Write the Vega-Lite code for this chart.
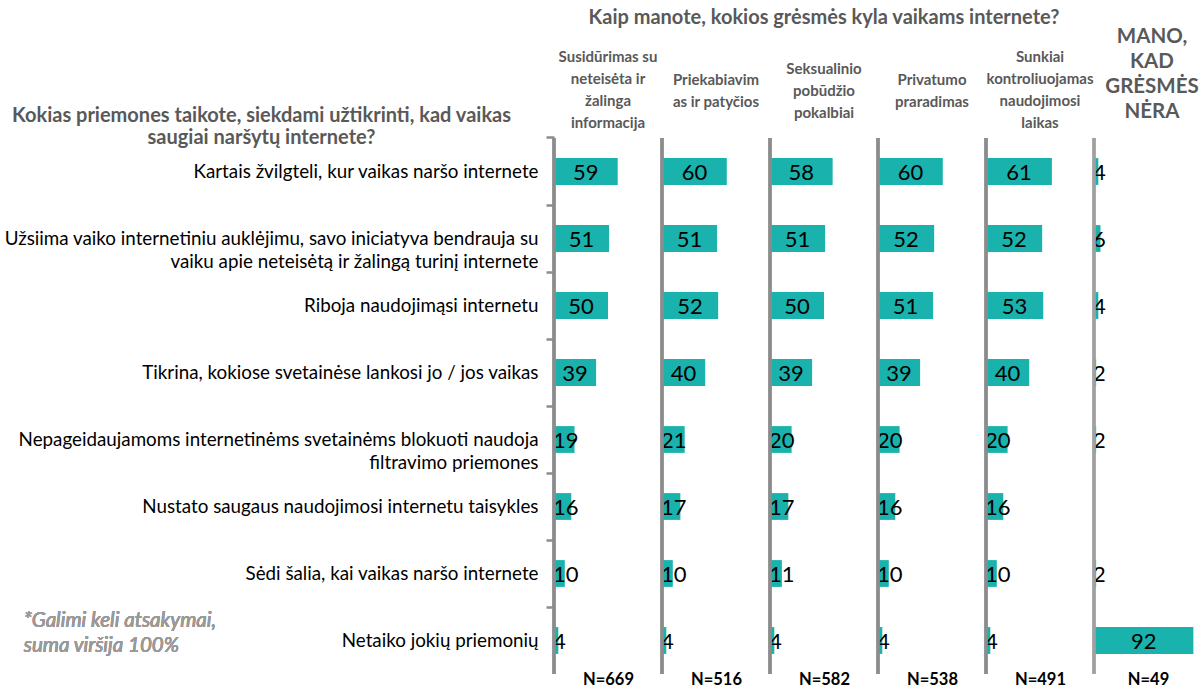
{
  "$schema": "https://vega.github.io/schema/vega-lite/v6.json",
  "padding": {"left": 3, "top": 7, "right": 0, "bottom": 0},
  "config": {"view": {"stroke": null}, "font": "Lato", "title": {"font": "Lato"}},
  "datasets": {
    "d": [
      {"threat": "Susidūrimas su neteisėta ir žalinga informacija", "measure": "Kartais žvilgteli, kur vaikas naršo internete", "pct": 59},
      {"threat": "Susidūrimas su neteisėta ir žalinga informacija", "measure": "Užsiima vaiko internetiniu auklėjimu, savo iniciatyva bendrauja su|vaiku apie neteisėtą ir žalingą turinį internete", "pct": 51},
      {"threat": "Susidūrimas su neteisėta ir žalinga informacija", "measure": "Riboja naudojimąsi internetu", "pct": 50},
      {"threat": "Susidūrimas su neteisėta ir žalinga informacija", "measure": "Tikrina, kokiose svetainėse lankosi jo / jos vaikas", "pct": 39},
      {"threat": "Susidūrimas su neteisėta ir žalinga informacija", "measure": "Nepageidaujamoms internetinėms svetainėms blokuoti naudoja|filtravimo priemones", "pct": 19},
      {"threat": "Susidūrimas su neteisėta ir žalinga informacija", "measure": "Nustato saugaus naudojimosi internetu taisykles", "pct": 16},
      {"threat": "Susidūrimas su neteisėta ir žalinga informacija", "measure": "Sėdi šalia, kai vaikas naršo internete", "pct": 10},
      {"threat": "Susidūrimas su neteisėta ir žalinga informacija", "measure": "Netaiko jokių priemonių", "pct": 4},
      {"threat": "Priekabiavimas ir patyčios", "measure": "Kartais žvilgteli, kur vaikas naršo internete", "pct": 60},
      {"threat": "Priekabiavimas ir patyčios", "measure": "Užsiima vaiko internetiniu auklėjimu, savo iniciatyva bendrauja su|vaiku apie neteisėtą ir žalingą turinį internete", "pct": 51},
      {"threat": "Priekabiavimas ir patyčios", "measure": "Riboja naudojimąsi internetu", "pct": 52},
      {"threat": "Priekabiavimas ir patyčios", "measure": "Tikrina, kokiose svetainėse lankosi jo / jos vaikas", "pct": 40},
      {"threat": "Priekabiavimas ir patyčios", "measure": "Nepageidaujamoms internetinėms svetainėms blokuoti naudoja|filtravimo priemones", "pct": 21},
      {"threat": "Priekabiavimas ir patyčios", "measure": "Nustato saugaus naudojimosi internetu taisykles", "pct": 17},
      {"threat": "Priekabiavimas ir patyčios", "measure": "Sėdi šalia, kai vaikas naršo internete", "pct": 10},
      {"threat": "Priekabiavimas ir patyčios", "measure": "Netaiko jokių priemonių", "pct": 4},
      {"threat": "Seksualinio pobūdžio pokalbiai", "measure": "Kartais žvilgteli, kur vaikas naršo internete", "pct": 58},
      {"threat": "Seksualinio pobūdžio pokalbiai", "measure": "Užsiima vaiko internetiniu auklėjimu, savo iniciatyva bendrauja su|vaiku apie neteisėtą ir žalingą turinį internete", "pct": 51},
      {"threat": "Seksualinio pobūdžio pokalbiai", "measure": "Riboja naudojimąsi internetu", "pct": 50},
      {"threat": "Seksualinio pobūdžio pokalbiai", "measure": "Tikrina, kokiose svetainėse lankosi jo / jos vaikas", "pct": 39},
      {"threat": "Seksualinio pobūdžio pokalbiai", "measure": "Nepageidaujamoms internetinėms svetainėms blokuoti naudoja|filtravimo priemones", "pct": 20},
      {"threat": "Seksualinio pobūdžio pokalbiai", "measure": "Nustato saugaus naudojimosi internetu taisykles", "pct": 17},
      {"threat": "Seksualinio pobūdžio pokalbiai", "measure": "Sėdi šalia, kai vaikas naršo internete", "pct": 11},
      {"threat": "Seksualinio pobūdžio pokalbiai", "measure": "Netaiko jokių priemonių", "pct": 4},
      {"threat": "Privatumo praradimas", "measure": "Kartais žvilgteli, kur vaikas naršo internete", "pct": 60},
      {"threat": "Privatumo praradimas", "measure": "Užsiima vaiko internetiniu auklėjimu, savo iniciatyva bendrauja su|vaiku apie neteisėtą ir žalingą turinį internete", "pct": 52},
      {"threat": "Privatumo praradimas", "measure": "Riboja naudojimąsi internetu", "pct": 51},
      {"threat": "Privatumo praradimas", "measure": "Tikrina, kokiose svetainėse lankosi jo / jos vaikas", "pct": 39},
      {"threat": "Privatumo praradimas", "measure": "Nepageidaujamoms internetinėms svetainėms blokuoti naudoja|filtravimo priemones", "pct": 20},
      {"threat": "Privatumo praradimas", "measure": "Nustato saugaus naudojimosi internetu taisykles", "pct": 16},
      {"threat": "Privatumo praradimas", "measure": "Sėdi šalia, kai vaikas naršo internete", "pct": 10},
      {"threat": "Privatumo praradimas", "measure": "Netaiko jokių priemonių", "pct": 4},
      {"threat": "Sunkiai kontroliuojamas naudojimosi laikas", "measure": "Kartais žvilgteli, kur vaikas naršo internete", "pct": 61},
      {"threat": "Sunkiai kontroliuojamas naudojimosi laikas", "measure": "Užsiima vaiko internetiniu auklėjimu, savo iniciatyva bendrauja su|vaiku apie neteisėtą ir žalingą turinį internete", "pct": 52},
      {"threat": "Sunkiai kontroliuojamas naudojimosi laikas", "measure": "Riboja naudojimąsi internetu", "pct": 53},
      {"threat": "Sunkiai kontroliuojamas naudojimosi laikas", "measure": "Tikrina, kokiose svetainėse lankosi jo / jos vaikas", "pct": 40},
      {"threat": "Sunkiai kontroliuojamas naudojimosi laikas", "measure": "Nepageidaujamoms internetinėms svetainėms blokuoti naudoja|filtravimo priemones", "pct": 20},
      {"threat": "Sunkiai kontroliuojamas naudojimosi laikas", "measure": "Nustato saugaus naudojimosi internetu taisykles", "pct": 16},
      {"threat": "Sunkiai kontroliuojamas naudojimosi laikas", "measure": "Sėdi šalia, kai vaikas naršo internete", "pct": 10},
      {"threat": "Sunkiai kontroliuojamas naudojimosi laikas", "measure": "Netaiko jokių priemonių", "pct": 4},
      {"threat": "Mano, kad grėsmės nėra", "measure": "Kartais žvilgteli, kur vaikas naršo internete", "pct": 4},
      {"threat": "Mano, kad grėsmės nėra", "measure": "Užsiima vaiko internetiniu auklėjimu, savo iniciatyva bendrauja su|vaiku apie neteisėtą ir žalingą turinį internete", "pct": 6},
      {"threat": "Mano, kad grėsmės nėra", "measure": "Riboja naudojimąsi internetu", "pct": 4},
      {"threat": "Mano, kad grėsmės nėra", "measure": "Tikrina, kokiose svetainėse lankosi jo / jos vaikas", "pct": 2},
      {"threat": "Mano, kad grėsmės nėra", "measure": "Nepageidaujamoms internetinėms svetainėms blokuoti naudoja|filtravimo priemones", "pct": 2},
      {"threat": "Mano, kad grėsmės nėra", "measure": "Sėdi šalia, kai vaikas naršo internete", "pct": 2},
      {"threat": "Mano, kad grėsmės nėra", "measure": "Netaiko jokių priemonių", "pct": 92}
    ]
  },
  "data": {"name": "d"},
  "bounds": "flush",
  "spacing": 0,
  "resolve": {"scale": {"x": "independent", "y": "independent"}, "axis": {"x": "independent", "y": "independent"}},
  "hconcat": [
    {
      "width": 108, "height": 536,
      "title": {"text": ["Susidūrimas su", "neteisėta ir", "žalinga", "informacija"], "fontSize": 15, "fontWeight": "bold", "color": "#595959", "lineHeight": 22, "offset": -26},
      "transform": [{"filter": "datum.threat == 'Susidūrimas su neteisėta ir žalinga informacija'"}],
      "layer": [
        {"mark": {"type": "bar", "color": "#1ab2ac"},
         "encoding": {
           "x": {"field": "pct", "type": "quantitative", "scale": {"domain": [0, 100]}, "axis": {"title": "N=669", "labels": false, "ticks": false, "domain": false, "grid": false, "titleFontSize": 16.5, "titleFontWeight": "bold", "titleColor": "#000", "titlePadding": -3}},
           "y": {"field": "measure", "type": "nominal", "sort": null,
                 "scale": {"domain": ["Kartais žvilgteli, kur vaikas naršo internete", "Užsiima vaiko internetiniu auklėjimu, savo iniciatyva bendrauja su|vaiku apie neteisėtą ir žalingą turinį internete", "Riboja naudojimąsi internetu", "Tikrina, kokiose svetainėse lankosi jo / jos vaikas", "Nepageidaujamoms internetinėms svetainėms blokuoti naudoja|filtravimo priemones", "Nustato saugaus naudojimosi internetu taisykles", "Sėdi šalia, kai vaikas naršo internete", "Netaiko jokių priemonių"], "paddingInner": 0.6, "paddingOuter": 0.3},
                 "axis": {"labelExpr": "split(datum.label, '|')", "labelFont": "Lato", "labelFontSize": 18.8, "labelColor": "#000", "labelLineHeight": 23, "labelPadding": 8, "labelLimit": 800, "tickSize": 8, "tickColor": "#8c8c8c", "tickWidth": 2.5, "bandPosition": -0.75, "domain": false,
                          "title": ["Kokias priemones taikote, siekdami užtikrinti, kad vaikas", "saugiai naršytų internete?"], "titleAngle": 0, "titleAlign": "center", "titleBaseline": "alphabetic", "titleX": -293, "titleY": -17, "titleFontSize": 20, "titleFontWeight": "bold", "titleColor": "#595959", "titleLineHeight": 22}}
         }},
        {"transform": [{"filter": "datum.pct >= 22"}, {"calculate": "datum.pct / 2", "as": "mid"}],
         "mark": {"type": "text", "fontSize": 22, "color": "#000", "baseline": "middle", "dy": 1},
         "encoding": {"x": {"field": "mid", "type": "quantitative"}, "y": {"field": "measure", "type": "nominal", "sort": null}, "text": {"field": "pct", "type": "quantitative"}}},
        {"transform": [{"filter": "datum.pct < 22"}],
         "mark": {"type": "text", "fontSize": 22, "color": "#000", "baseline": "middle", "align": "left", "dx": -1, "dy": 1},
         "encoding": {"x": {"datum": 0}, "y": {"field": "measure", "type": "nominal", "sort": null}, "text": {"field": "pct", "type": "quantitative"}}},
        {"mark": {"type": "text", "align": "left", "baseline": "middle", "fontSize": 20.5, "fontStyle": "italic", "fontWeight": "normal", "color": "#9a9a9a", "lineHeight": 25, "dy": -20, "text": ["*Galimi keli atsakymai,", "suma viršija 100%"]},
         "encoding": {"x": {"datum": -491}, "y": {"datum": "Netaiko jokių priemonių", "type": "nominal"}}},
        {"mark": {"type": "rule", "color": "#8c8c8c", "strokeWidth": 2.5}, "encoding": {"x": {"datum": 0}}}
      ]
    },
    {
      "width": 108, "height": 536,
      "title": {"text": ["Priekabiavim", "as ir patyčios"], "fontSize": 15, "fontWeight": "bold", "color": "#595959", "lineHeight": 22, "offset": 27},
      "transform": [{"filter": "datum.threat == 'Priekabiavimas ir patyčios'"}],
      "layer": [
        {"mark": {"type": "bar", "color": "#1ab2ac"},
         "encoding": {
           "x": {"field": "pct", "type": "quantitative", "scale": {"domain": [0, 100]}, "axis": {"title": "N=516", "labels": false, "ticks": false, "domain": false, "grid": false, "titleFontSize": 16.5, "titleFontWeight": "bold", "titleColor": "#000", "titlePadding": -3}},
           "y": {"field": "measure", "type": "nominal", "sort": null,
                 "scale": {"domain": ["Kartais žvilgteli, kur vaikas naršo internete", "Užsiima vaiko internetiniu auklėjimu, savo iniciatyva bendrauja su|vaiku apie neteisėtą ir žalingą turinį internete", "Riboja naudojimąsi internetu", "Tikrina, kokiose svetainėse lankosi jo / jos vaikas", "Nepageidaujamoms internetinėms svetainėms blokuoti naudoja|filtravimo priemones", "Nustato saugaus naudojimosi internetu taisykles", "Sėdi šalia, kai vaikas naršo internete", "Netaiko jokių priemonių"], "paddingInner": 0.6, "paddingOuter": 0.3},
                 "axis": null}
         }},
        {"transform": [{"filter": "datum.pct >= 22"}, {"calculate": "datum.pct / 2", "as": "mid"}],
         "mark": {"type": "text", "fontSize": 22, "color": "#000", "baseline": "middle", "dy": 1},
         "encoding": {"x": {"field": "mid", "type": "quantitative"}, "y": {"field": "measure", "type": "nominal", "sort": null}, "text": {"field": "pct", "type": "quantitative"}}},
        {"transform": [{"filter": "datum.pct < 22"}],
         "mark": {"type": "text", "fontSize": 22, "color": "#000", "baseline": "middle", "align": "left", "dx": -1, "dy": 1},
         "encoding": {"x": {"datum": 0}, "y": {"field": "measure", "type": "nominal", "sort": null}, "text": {"field": "pct", "type": "quantitative"}}},
        {"mark": {"type": "rule", "color": "#8c8c8c", "strokeWidth": 2.5}, "encoding": {"x": {"datum": 0}}}
      ]
    },
    {
      "width": 108, "height": 536,
      "title": {"text": "Kaip manote, kokios grėsmės kyla vaikams internete?", "fontSize": 20, "fontWeight": "bold", "color": "#595959", "subtitle": ["Seksualinio", "pobūdžio", "pokalbiai"], "subtitleFontSize": 15, "subtitleFontWeight": "bold", "subtitleColor": "#595959", "subtitleLineHeight": 22, "subtitlePadding": 34, "offset": 16},
      "transform": [{"filter": "datum.threat == 'Seksualinio pobūdžio pokalbiai'"}],
      "layer": [
        {"mark": {"type": "bar", "color": "#1ab2ac"},
         "encoding": {
           "x": {"field": "pct", "type": "quantitative", "scale": {"domain": [0, 100]}, "axis": {"title": "N=582", "labels": false, "ticks": false, "domain": false, "grid": false, "titleFontSize": 16.5, "titleFontWeight": "bold", "titleColor": "#000", "titlePadding": -3}},
           "y": {"field": "measure", "type": "nominal", "sort": null,
                 "scale": {"domain": ["Kartais žvilgteli, kur vaikas naršo internete", "Užsiima vaiko internetiniu auklėjimu, savo iniciatyva bendrauja su|vaiku apie neteisėtą ir žalingą turinį internete", "Riboja naudojimąsi internetu", "Tikrina, kokiose svetainėse lankosi jo / jos vaikas", "Nepageidaujamoms internetinėms svetainėms blokuoti naudoja|filtravimo priemones", "Nustato saugaus naudojimosi internetu taisykles", "Sėdi šalia, kai vaikas naršo internete", "Netaiko jokių priemonių"], "paddingInner": 0.6, "paddingOuter": 0.3},
                 "axis": null}
         }},
        {"transform": [{"filter": "datum.pct >= 22"}, {"calculate": "datum.pct / 2", "as": "mid"}],
         "mark": {"type": "text", "fontSize": 22, "color": "#000", "baseline": "middle", "dy": 1},
         "encoding": {"x": {"field": "mid", "type": "quantitative"}, "y": {"field": "measure", "type": "nominal", "sort": null}, "text": {"field": "pct", "type": "quantitative"}}},
        {"transform": [{"filter": "datum.pct < 22"}],
         "mark": {"type": "text", "fontSize": 22, "color": "#000", "baseline": "middle", "align": "left", "dx": -1, "dy": 1},
         "encoding": {"x": {"datum": 0}, "y": {"field": "measure", "type": "nominal", "sort": null}, "text": {"field": "pct", "type": "quantitative"}}},
        {"mark": {"type": "rule", "color": "#8c8c8c", "strokeWidth": 2.5}, "encoding": {"x": {"datum": 0}}}
      ]
    },
    {
      "width": 108, "height": 536,
      "title": {"text": ["Privatumo", "praradimas"], "fontSize": 15, "fontWeight": "bold", "color": "#595959", "lineHeight": 22, "offset": 27},
      "transform": [{"filter": "datum.threat == 'Privatumo praradimas'"}],
      "layer": [
        {"mark": {"type": "bar", "color": "#1ab2ac"},
         "encoding": {
           "x": {"field": "pct", "type": "quantitative", "scale": {"domain": [0, 100]}, "axis": {"title": "N=538", "labels": false, "ticks": false, "domain": false, "grid": false, "titleFontSize": 16.5, "titleFontWeight": "bold", "titleColor": "#000", "titlePadding": -3}},
           "y": {"field": "measure", "type": "nominal", "sort": null,
                 "scale": {"domain": ["Kartais žvilgteli, kur vaikas naršo internete", "Užsiima vaiko internetiniu auklėjimu, savo iniciatyva bendrauja su|vaiku apie neteisėtą ir žalingą turinį internete", "Riboja naudojimąsi internetu", "Tikrina, kokiose svetainėse lankosi jo / jos vaikas", "Nepageidaujamoms internetinėms svetainėms blokuoti naudoja|filtravimo priemones", "Nustato saugaus naudojimosi internetu taisykles", "Sėdi šalia, kai vaikas naršo internete", "Netaiko jokių priemonių"], "paddingInner": 0.6, "paddingOuter": 0.3},
                 "axis": null}
         }},
        {"transform": [{"filter": "datum.pct >= 22"}, {"calculate": "datum.pct / 2", "as": "mid"}],
         "mark": {"type": "text", "fontSize": 22, "color": "#000", "baseline": "middle", "dy": 1},
         "encoding": {"x": {"field": "mid", "type": "quantitative"}, "y": {"field": "measure", "type": "nominal", "sort": null}, "text": {"field": "pct", "type": "quantitative"}}},
        {"transform": [{"filter": "datum.pct < 22"}],
         "mark": {"type": "text", "fontSize": 22, "color": "#000", "baseline": "middle", "align": "left", "dx": -1, "dy": 1},
         "encoding": {"x": {"datum": 0}, "y": {"field": "measure", "type": "nominal", "sort": null}, "text": {"field": "pct", "type": "quantitative"}}},
        {"mark": {"type": "rule", "color": "#8c8c8c", "strokeWidth": 2.5}, "encoding": {"x": {"datum": 0}}}
      ]
    },
    {
      "width": 108, "height": 536,
      "title": {"text": ["Sunkiai", "kontroliuojamas", "naudojimosi", "laikas"], "fontSize": 15, "fontWeight": "bold", "color": "#595959", "lineHeight": 22, "offset": 6},
      "transform": [{"filter": "datum.threat == 'Sunkiai kontroliuojamas naudojimosi laikas'"}],
      "layer": [
        {"mark": {"type": "bar", "color": "#1ab2ac"},
         "encoding": {
           "x": {"field": "pct", "type": "quantitative", "scale": {"domain": [0, 100]}, "axis": {"title": "N=491", "labels": false, "ticks": false, "domain": false, "grid": false, "titleFontSize": 16.5, "titleFontWeight": "bold", "titleColor": "#000", "titlePadding": -3}},
           "y": {"field": "measure", "type": "nominal", "sort": null,
                 "scale": {"domain": ["Kartais žvilgteli, kur vaikas naršo internete", "Užsiima vaiko internetiniu auklėjimu, savo iniciatyva bendrauja su|vaiku apie neteisėtą ir žalingą turinį internete", "Riboja naudojimąsi internetu", "Tikrina, kokiose svetainėse lankosi jo / jos vaikas", "Nepageidaujamoms internetinėms svetainėms blokuoti naudoja|filtravimo priemones", "Nustato saugaus naudojimosi internetu taisykles", "Sėdi šalia, kai vaikas naršo internete", "Netaiko jokių priemonių"], "paddingInner": 0.6, "paddingOuter": 0.3},
                 "axis": null}
         }},
        {"transform": [{"filter": "datum.pct >= 22"}, {"calculate": "datum.pct / 2", "as": "mid"}],
         "mark": {"type": "text", "fontSize": 22, "color": "#000", "baseline": "middle", "dy": 1},
         "encoding": {"x": {"field": "mid", "type": "quantitative"}, "y": {"field": "measure", "type": "nominal", "sort": null}, "text": {"field": "pct", "type": "quantitative"}}},
        {"transform": [{"filter": "datum.pct < 22"}],
         "mark": {"type": "text", "fontSize": 22, "color": "#000", "baseline": "middle", "align": "left", "dx": -1, "dy": 1},
         "encoding": {"x": {"datum": 0}, "y": {"field": "measure", "type": "nominal", "sort": null}, "text": {"field": "pct", "type": "quantitative"}}},
        {"mark": {"type": "rule", "color": "#8c8c8c", "strokeWidth": 2.5}, "encoding": {"x": {"datum": 0}}}
      ]
    },
    {
      "width": 108, "height": 536,
      "title": {"text": ["MANO,", "KAD", "GRĖSMĖS", "NĖRA"], "fontSize": 20.5, "fontWeight": "bold", "color": "#595959", "lineHeight": 25, "offset": 14, "dx": 4},
      "transform": [{"filter": "datum.threat == 'Mano, kad grėsmės nėra'"}],
      "layer": [
        {"mark": {"type": "bar", "color": "#1ab2ac"},
         "encoding": {
           "x": {"field": "pct", "type": "quantitative", "scale": {"domain": [0, 100]}, "axis": {"title": "N=49", "labels": false, "ticks": false, "domain": false, "grid": false, "titleFontSize": 16.5, "titleFontWeight": "bold", "titleColor": "#000", "titlePadding": -3}},
           "y": {"field": "measure", "type": "nominal", "sort": null,
                 "scale": {"domain": ["Kartais žvilgteli, kur vaikas naršo internete", "Užsiima vaiko internetiniu auklėjimu, savo iniciatyva bendrauja su|vaiku apie neteisėtą ir žalingą turinį internete", "Riboja naudojimąsi internetu", "Tikrina, kokiose svetainėse lankosi jo / jos vaikas", "Nepageidaujamoms internetinėms svetainėms blokuoti naudoja|filtravimo priemones", "Nustato saugaus naudojimosi internetu taisykles", "Sėdi šalia, kai vaikas naršo internete", "Netaiko jokių priemonių"], "paddingInner": 0.6, "paddingOuter": 0.3},
                 "axis": null}
         }},
        {"transform": [{"filter": "datum.pct >= 22"}, {"calculate": "datum.pct / 2", "as": "mid"}],
         "mark": {"type": "text", "fontSize": 22, "color": "#000", "baseline": "middle", "dy": 1},
         "encoding": {"x": {"field": "mid", "type": "quantitative"}, "y": {"field": "measure", "type": "nominal", "sort": null}, "text": {"field": "pct", "type": "quantitative"}}},
        {"transform": [{"filter": "datum.pct < 22"}],
         "mark": {"type": "text", "fontSize": 22, "color": "#000", "baseline": "middle", "align": "left", "dx": -1, "dy": 1},
         "encoding": {"x": {"datum": 0}, "y": {"field": "measure", "type": "nominal", "sort": null}, "text": {"field": "pct", "type": "quantitative"}}},
        {"mark": {"type": "rule", "color": "#a0a0a0", "strokeWidth": 2.5}, "encoding": {"x": {"datum": 0}}}
      ]
    }
  ]
}
